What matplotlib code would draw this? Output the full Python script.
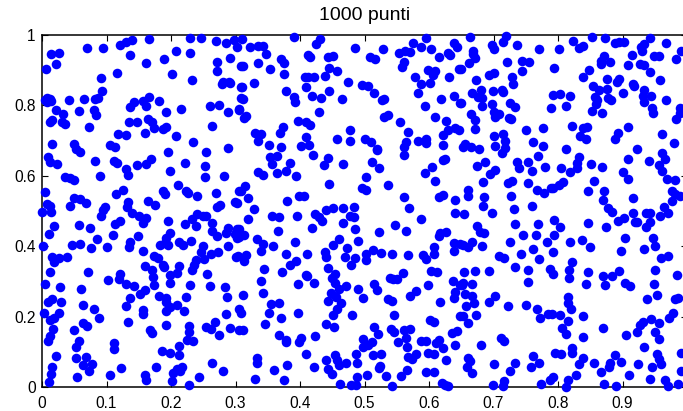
import matplotlib
matplotlib.use('Agg')
import matplotlib.pyplot as plt

plt.rcParams['font.family'] = ['Liberation Sans', 'DejaVu Sans']

titolo = '1000 punti'
xticks = [0, 0.1, 0.2, 0.3, 0.4, 0.5, 0.6, 0.7, 0.8, 0.9]
xtick_labels = ['0', '0.1', '0.2', '0.3', '0.4', '0.5', '0.6', '0.7', '0.8', '0.9']
yticks = [0, 0.2, 0.4, 0.6, 0.8, 1]
ytick_labels = ['0', '0.2', '0.4', '0.6', '0.8', '1']

# upper part (y > 0.66)
punti_alto = [
    (.014,.946),(.027,.950),(.022,.918),(.006,.902),(.070,.962),(.095,.963),(.121,.972),(.130,.981),(.140,.986),
    (.166,.989),(.136,.943),(.162,.921),(.189,.933),(.207,.955),(.230,.991),(.247,.992),(.269,.984),(.285,.976),
    (.297,.986),(.303,.967),(.229,.950),(.271,.922),(.272,.898),(.291,.934),(.202,.889),(.233,.871),(.279,.861),
    (.281,.867),(.290,.866),(.116,.892),(.092,.877),(.093,.840),(.087,.820),(.082,.817),(.065,.819),(.042,.815),
    (.005,.815),(.007,.820),(.012,.818),(.008,.810),(.014,.812),(.021,.787),(.032,.775),(.057,.785),(.081,.787),
    (.084,.772),(.015,.759),(.012,.754),(.031,.754),(.035,.747),(.073,.738),(.136,.796),(.143,.809),(.157,.813),
    (.166,.824),(.162,.799),(.182,.813),(.192,.782),(.215,.790),(.261,.797),(.274,.801),(.289,.782),(.305,.787),
    (.135,.752),(.147,.753),(.165,.761),(.170,.752),(.174,.737),(.187,.733),(.192,.740),(.263,.742),(.118,.719),
    (.130,.716),(.160,.721),(.207,.714),(.234,.697),(.016,.691),(.049,.691),(.053,.676),(.106,.687),(.113,.682),
    (.288,.678),(.254,.669),(.195,.667),(.308,.912),(.308,.851),(.308,.820),(.310,.989),(.322,.965),(.335,.969),
    (.343,.969),(.347,.945),(.335,.921),(.311,.911),(.353,.903),(.370,.931),(.375,.920),(.375,.889),(.391,.995),
    (.431,.988),(.425,.974),(.412,.942),(.415,.938),(.443,.938),(.451,.941),(.445,.906),(.457,.897),(.485,.964),
    (.509,.938),(.516,.931),(.529,.961),(.554,.949),(.563,.955),(.570,.952),(.575,.976),(.588,.965),(.596,.992),
    (.603,.959),(.616,.938),(.630,.948),(.632,.942),(.638,.976),(.643,.967),(.558,.909),(.561,.924),(.598,.901),
    (.610,.899),(.606,.886),(.579,.880),(.587,.861),(.601,.864),(.631,.880),(.647,.902),(.583,.834),(.618,.818),
    (.638,.826),(.648,.808),(.594,.799),(.609,.768),(.626,.755),(.641,.737),(.630,.729),(.621,.716),(.622,.688),
    (.408,.880),(.413,.882),(.422,.882),(.439,.884),(.410,.852),(.474,.866),(.496,.858),(.506,.855),(.515,.834),
    (.527,.814),(.531,.817),(.445,.840),(.433,.822),(.419,.827),(.465,.818),(.391,.825),(.393,.809),(.378,.841),
    (.329,.865),(.310,.852),(.311,.819),(.291,.865),(.306,.789),(.313,.765),(.316,.770),(.429,.780),(.397,.755),
    (.410,.753),(.415,.745),(.531,.767),(.537,.772),(.555,.754),(.567,.724),(.477,.731),(.458,.705),(.478,.699),
    (.501,.705),(.510,.697),(.373,.740),(.369,.723),(.331,.721),(.340,.719),(.335,.699),(.352,.688),(.370,.683),
    (.409,.711),(.401,.685),(.414,.688),(.519,.675),(.564,.695),(.561,.681),(.583,.699),(.595,.705),(.595,.692),
    (.663,.993),(.668,.955),(.668,.945),(.672,.934),(.662,.921),(.650,.902),(.698,.972),(.701,.960),(.715,.979),
    (.720,.998),(.737,.971),(.770,.961),(.802,.959),(.823,.983),(.832,.964),(.839,.969),(.852,.993),(.873,.992),
    (.889,.978),(.894,.979),(.902,.979),(.943,.991),(.968,.976),(.933,.974),(.928,.967),(.930,.955),(.914,.943),
    (.990,.955),(.983,.932),(.949,.941),(.956,.941),(.908,.916),(.927,.918),(.933,.915),(.943,.896),(.958,.873),
    (.871,.941),(.867,.927),(.866,.919),(.880,.924),(.848,.901),(.838,.882),(.876,.875),(.895,.875),(.891,.866),
    (.917,.861),(.918,.854),(.854,.855),(.864,.844),(.876,.848),(.900,.835),(.933,.844),(.932,.828),(.944,.828),
    (.934,.811),(.968,.815),(.858,.824),(.861,.815),(.859,.804),(.877,.821),(.882,.816),(.853,.784),(.868,.778),
    (.946,.794),(.948,.779),(.989,.792),(.983,.762),(.989,.779),(.721,.923),(.744,.927),(.755,.922),(.744,.899),
    (.794,.905),(.728,.880),(.730,.861),(.701,.891),(.693,.886),(.673,.873),(.699,.842),(.713,.845),(.714,.838),
    (.680,.845),(.667,.836),(.676,.825),(.682,.820),(.650,.808),(.682,.797),(.698,.803),(.726,.807),(.734,.795),
    (.792,.830),(.803,.833),(.819,.826),(.789,.794),(.813,.799),(.665,.775),(.672,.759),(.701,.780),(.708,.775),
    (.703,.767),(.724,.765),(.727,.762),(.646,.729),(.671,.734),(.750,.731),(.776,.737),(.822,.741),(.839,.735),
    (.845,.738),(.834,.712),(.844,.705),(.908,.740),(.893,.723),(.889,.704),(.962,.719),(.980,.692),(.701,.712),
    (.715,.718),(.718,.700),(.703,.686),(.718,.678),(.761,.695),(.776,.686),(.812,.675),(.923,.675),(.656,.689),
    (.653,.681),(.665,.681),(.677,.675),
]

# middle part (0.32 < y < 0.67)
punti_centro = [
    (.059,.669),(.009,.652),(.012,.638),(.024,.634),(.082,.643),(.112,.641),(.117,.636),(.130,.618),(.133,.602),
    (.148,.631),(.162,.633),(.169,.647),(.198,.615),(.221,.635),(.252,.629),(.253,.598),(.282,.600),(.090,.600),
    (.035,.598),(.044,.593),(.050,.587),(.005,.554),(.125,.560),(.114,.548),(.187,.558),(.191,.547),(.211,.574),
    (.223,.557),(.227,.551),(.241,.543),(.269,.550),(.306,.557),(.007,.520),(.012,.513),(.014,.496),(.000,.496),
    (.044,.515),(.049,.536),(.059,.535),(.068,.524),(.098,.510),(.095,.503),(.092,.487),(.134,.526),(.132,.511),
    (.139,.494),(.165,.528),(.175,.518),(.150,.486),(.162,.481),(.156,.465),(.121,.471),(.113,.464),(.195,.473),
    (.221,.464),(.233,.478),(.240,.491),(.250,.487),(.254,.486),(.239,.456),(.264,.466),(.271,.511),(.276,.517),
    (.299,.526),(.303,.522),(.019,.456),(.058,.461),(.074,.452),(.011,.434),(.085,.420),(.110,.431),(.149,.430),
    (.046,.402),(.059,.407),(.076,.395),(.101,.399),(.137,.411),(.135,.397),(.001,.401),(.156,.386),(.199,.438),
    (.192,.422),(.183,.403),(.191,.408),(.196,.402),(.213,.413),(.219,.402),(.231,.415),(.263,.443),(.271,.430),
    (.288,.451),(.285,.438),(.299,.434),(.303,.449),(.306,.425),(.288,.401),(.250,.401),(.246,.383),(.262,.379),
    (.273,.384),(.251,.364),(.300,.368),(.304,.372),(.015,.369),(.026,.366),(.019,.354),(.038,.369),(.173,.373),
    (.180,.366),(.188,.347),(.189,.341),(.159,.345),(.171,.331),(.213,.343),(.198,.318),(.209,.323),(.238,.362),
    (.236,.347),(.232,.332),(.012,.328),(.071,.326),(.121,.320),(.256,.320),(.420,.659),(.444,.650),(.437,.631),
    (.466,.633),(.520,.672),(.511,.640),(.522,.621),(.562,.659),(.353,.654),(.365,.657),(.357,.634),(.384,.636),
    (.379,.615),(.365,.608),(.335,.610),(.342,.602),(.394,.599),(.445,.578),(.502,.596),(.496,.564),(.503,.561),
    (.536,.574),(.594,.608),(.605,.624),(.610,.585),(.621,.644),(.625,.647),(.616,.540),(.622,.545),(.641,.531),
    (.641,.493),(.561,.541),(.569,.508),(.587,.477),(.548,.460),(.565,.442),(.523,.441),(.314,.572),(.309,.557),
    (.319,.536),(.329,.505),(.320,.478),(.357,.485),(.368,.483),(.380,.528),(.398,.543),(.406,.542),(.396,.487),
    (.366,.443),(.418,.452),(.423,.491),(.429,.483),(.434,.472),(.441,.503),(.451,.508),(.466,.508),(.484,.512),
    (.478,.485),(.484,.483),(.467,.467),(.486,.449),(.490,.415),(.461,.420),(.451,.402),(.473,.396),(.439,.384),
    (.440,.368),(.469,.370),(.485,.366),(.479,.348),(.502,.377),(.502,.361),(.513,.388),(.525,.380),(.542,.379),
    (.568,.376),(.591,.375),(.595,.365),(.608,.397),(.608,.377),(.615,.430),(.617,.438),(.627,.439),(.638,.410),
    (.638,.386),(.648,.405),(.306,.449),(.302,.422),(.313,.433),(.333,.420),(.343,.407),(.340,.386),(.358,.400),
    (.393,.413),(.379,.379),(.411,.377),(.394,.359),(.384,.346),(.317,.375),(.313,.359),(.344,.336),(.372,.328),
    (.410,.318),(.444,.339),(.455,.320),(.560,.323),(.603,.330),(.613,.328),(.713,.664),(.674,.627),(.687,.640),
    (.703,.616),(.695,.605),(.683,.583),(.737,.640),(.740,.621),(.754,.640),(.769,.656),(.759,.613),(.780,.624),
    (.804,.623),(.818,.612),(.829,.623),(.829,.635),(.833,.653),(.851,.633),(.868,.625),(.900,.610),(.909,.590),
    (.909,.649),(.941,.642),(.956,.631),(.966,.649),(.961,.664),(.961,.615),(.969,.590),(.982,.588),(.722,.579),
    (.728,.586),(.754,.580),(.768,.560),(.779,.550),(.789,.564),(.792,.566),(.802,.574),(.807,.581),(.856,.586),
    (.847,.557),(.871,.557),(.870,.531),(.916,.538),(.977,.557),(.982,.547),(.989,.544),(.977,.528),(.660,.560),
    (.661,.544),(.685,.539),(.683,.514),(.727,.542),(.732,.506),(.760,.513),(.698,.495),(.655,.491),(.878,.509),
    (.884,.498),(.917,.495),(.937,.495),(.942,.493),(.964,.511),(.970,.495),(.958,.487),(.903,.479),(.893,.471),
    (.919,.468),(.923,.468),(.942,.470),(.936,.455),(.847,.465),(.875,.454),(.794,.475),(.803,.455),(.769,.462),
    (.733,.463),(.675,.456),(.679,.440),(.686,.437),(.746,.432),(.766,.431),(.794,.431),(.783,.412),(.726,.412),
    (.818,.413),(.837,.417),(.850,.399),(.904,.424),(.947,.424),(.950,.400),(.933,.393),(.897,.387),(.666,.411),
    (.661,.399),(.652,.404),(.682,.400),(.762,.391),(.792,.383),(.742,.378),(.709,.373),(.717,.366),(.771,.364),
    (.822,.355),(.960,.367),(.971,.371),(.734,.342),(.754,.331),(.788,.336),(.817,.331),(.846,.327),(.895,.330),
    (.883,.316),(.870,.315),(.951,.332),(.654,.327),(.672,.330),(.693,.329),(.792,.320),
]

# lower part (y < 0.32)
punti_basso = [
    (.103,.304),(.119,.306),(.130,.293),(.142,.287),(.172,.313),(.173,.289),(.198,.296),(.229,.291),(.261,.287),
    (.284,.283),(.287,.257),(.005,.294),(.028,.285),(.060,.277),(.159,.276),(.152,.263),(.181,.259),(.136,.252),
    (.193,.252),(.192,.241),(.224,.255),(.015,.250),(.010,.241),(.029,.241),(.063,.232),(.130,.230),(.209,.233),
    (.198,.228),(.192,.216),(.220,.215),(.156,.219),(.157,.206),(.081,.221),(.088,.195),(.003,.211),(.026,.209),
    (.012,.190),(.018,.197),(.286,.206),(.305,.221),(.308,.209),(.064,.183),(.069,.174),(.134,.184),(.193,.176),
    (.228,.173),(.268,.184),(.254,.170),(.262,.166),(.291,.169),(.305,.161),(.017,.165),(.050,.162),(.168,.162),
    (.170,.152),(.228,.155),(.275,.148),(.012,.145),(.009,.131),(.057,.130),(.053,.114),(.111,.124),(.112,.109),
    (.225,.134),(.234,.132),(.213,.116),(.186,.102),(.199,.096),(.212,.091),(.022,.088),(.053,.081),(.068,.086),
    (.064,.063),(.078,.066),(.073,.045),(.015,.058),(.014,.038),(.055,.029),(.123,.055),(.105,.033),(.176,.058),
    (.160,.034),(.161,.020),(.217,.058),(.209,.050),(.214,.046),(.203,.039),(.201,.016),(.264,.067),(.281,.045),
    (.244,.027),(.228,.007),(.011,.014),(.340,.300),(.342,.268),(.312,.260),(.355,.235),(.367,.240),(.352,.209),
    (.371,.195),(.397,.211),(.346,.179),(.311,.163),(.397,.292),(.411,.316),(.422,.296),(.450,.309),(.454,.296),
    (.460,.277),(.471,.287),(.448,.266),(.456,.255),(.443,.245),(.463,.240),(.457,.221),(.451,.205),(.490,.278),
    (.498,.252),(.480,.205),(.514,.294),(.520,.276),(.539,.309),(.544,.308),(.550,.306),(.536,.250),(.542,.245),
    (.546,.205),(.580,.273),(.571,.259),(.598,.289),(.617,.241),(.637,.301),(.638,.252),(.641,.269),(.648,.290),
    (.601,.190),(.608,.185),(.648,.202),(.441,.178),(.452,.170),(.515,.171),(.521,.151),(.541,.164),(.546,.155),
    (.561,.162),(.570,.164),(.565,.140),(.552,.129),(.566,.115),(.368,.148),(.379,.134),(.379,.128),(.401,.140),
    (.399,.127),(.423,.145),(.498,.137),(.511,.129),(.506,.118),(.498,.115),(.588,.130),(.595,.131),(.616,.134),
    (.611,.126),(.621,.112),(.635,.152),(.644,.159),(.641,.119),(.410,.094),(.455,.092),(.487,.093),(.513,.091),
    (.525,.094),(.568,.086),(.574,.080),(.580,.094),(.598,.097),(.607,.094),(.626,.078),(.333,.081),(.334,.067),
    (.440,.077),(.457,.077),(.460,.063),(.471,.067),(.488,.069),(.380,.063),(.360,.048),(.422,.058),(.444,.050),
    (.449,.037),(.524,.061),(.522,.054),(.566,.048),(.595,.042),(.608,.043),(.331,.024),(.375,.020),(.504,.033),
    (.489,.027),(.534,.031),(.557,.031),(.462,.009),(.479,.007),(.487,.007),(.542,.004),(.620,.010),(.630,.004),
    (.625,.005),(.653,.296),(.651,.290),(.666,.293),(.754,.297),(.656,.263),(.666,.259),(.658,.231),(.670,.239),
    (.702,.259),(.693,.241),(.722,.231),(.750,.234),(.652,.202),(.673,.205),(.660,.181),(.680,.120),(.712,.139),
    (.716,.130),(.660,.082),(.664,.075),(.659,.056),(.667,.041),(.701,.064),(.733,.067),(.725,.045),(.762,.088),
    (.770,.068),(.758,.058),(.716,.016),(.714,.002),(.699,.007),(.773,.009),(.793,.027),(.787,.019),(.767,.221),
    (.772,.196),(.784,.208),(.790,.208),(.803,.204),(.817,.309),(.844,.292),(.873,.291),(.904,.296),(.912,.288),
    (.949,.293),(.984,.318),(.954,.260),(.938,.251),(.981,.249),(.986,.252),(.815,.256),(.816,.238),(.820,.223),
    (.838,.201),(.816,.187),(.806,.167),(.813,.151),(.838,.142),(.870,.168),(.906,.148),(.923,.156),(.927,.175),
    (.932,.186),(.944,.192),(.956,.181),(.972,.195),(.978,.209),(.950,.157),(.957,.135),(.933,.114),(.953,.095),
    (.957,.079),(.959,.065),(.946,.058),(.924,.064),(.991,.096),(.990,.045),(.822,.112),(.822,.098),(.795,.096),
    (.805,.094),(.838,.083),(.832,.064),(.856,.068),(.881,.067),(.879,.058),(.889,.092),(.898,.071),(.866,.044),
    (.828,.033),(.910,.033),(.942,.022),(.966,.020),(.816,.020),(.813,.000),(.871,.008),(.890,.003),(.970,.002),
    (.986,.008),
]

punti = punti_alto + punti_centro + punti_basso
x = [p[0] for p in punti]
y = [p[1] for p in punti]

W, H = 683, 411
fig = plt.figure(figsize=(W / 100, H / 100), dpi=100)
# the right edge of the axes falls just outside the saved picture
ax = fig.add_axes([42 / W, (H - 387) / H, 645 / W, 352 / H])
ax.plot(x, y, 'o', color='#0000ff', ms=6.9, mew=0, clip_on=False, zorder=5)
ax.set_xlim(0, 1)
ax.set_ylim(0, 1)
ax.set_xticks(xticks, xtick_labels)
ax.set_yticks(yticks, ytick_labels)
ax.tick_params(direction='in', length=4.5, width=0.8, top=True, right=True, labelsize=11.2)
ax.tick_params(axis='x', pad=6.5)
ax.tick_params(axis='y', pad=4.5)
for s in ax.spines.values():
    s.set_linewidth(1.1)
ax.set_title(titolo, fontsize=14, pad=11)

fig.savefig('out.png', dpi=100)
